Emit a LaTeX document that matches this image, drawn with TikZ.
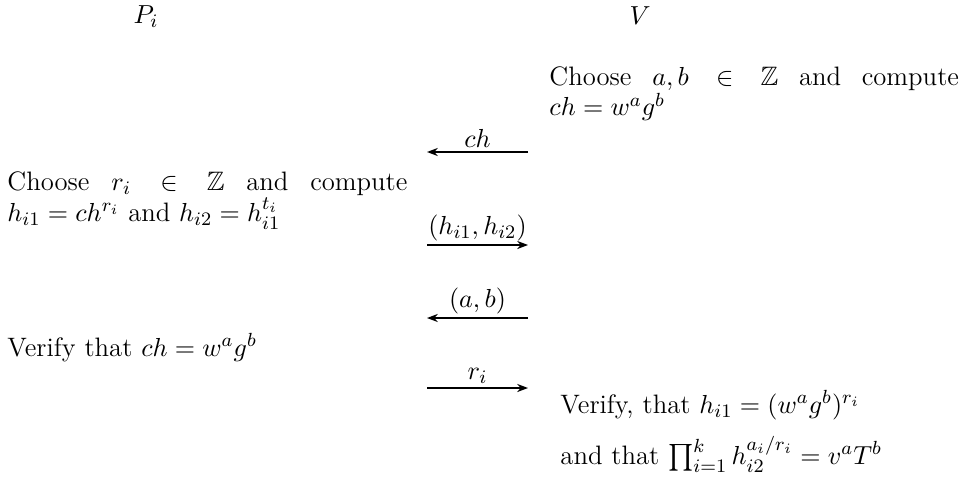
\documentclass[tikz,border=0pt]{standalone}
\usepackage{amsmath,amssymb}
\usetikzlibrary{arrows.meta,positioning}
\tikzset{
	steptext/.style={anchor=north west, align=justify, text width=168pt, inner sep=0pt,
		font=\fontsize{11.2}{11}\selectfont},
	msgarr/.style={-{Stealth[length=1.6mm,width=1.2mm]}, semithick},
	msglabel/.style={above=0.5pt, inner sep=1pt, font=\fontsize{11.2}{11}\selectfont}
}
\begin{document}
\begin{tikzpicture}[x=0.42pt, y=-0.42pt, font=\fontsize{11.2}{11}\selectfont]
			\useasboundingbox (0,0) rectangle (965,477);
			% parties
			\node (party) at (146,17) {$P_i$};
			\node (verif) at (640,16) {$V$};
			% steps
			\node[steptext, text width=172pt] (vchoose) at (549,66) {Choose $a,b \in \mathbb{Z}$ and compute\linebreak $ch = w^a g^b$};
			\node[steptext] (pchoose) at (7,171) {Choose $r_i \in \mathbb{Z}$ and compute\linebreak $h_{i1} = ch^{r_i}$ and $h_{i2} = h_{i1}^{t_i}$};
			\node[steptext, align=left] (pverify) at (7,333) {Verify that $ch = w^a g^b$};
			\node[steptext, align=left] (vverify) at (560,390) {Verify, that $h_{i1} = (w^a g^b)^{r_i}$\\[6pt] and that $\prod_{i=1}^{k} h_{i2}^{a_i/r_i} = v^a T^b$};
			% messages
			\coordinate (chL) at (427,152);  \coordinate (chR) at (528,152);
			\coordinate (hhL) at (427,245);  \coordinate (hhR) at (528,245);
			\coordinate (abL) at (427,318);  \coordinate (abR) at (528,318);
			\coordinate (riL) at (427,388);  \coordinate (riR) at (528,388);
			\draw[msgarr] (chR) -- node[msglabel]{$ch$} (chL);
			\draw[msgarr] (hhL) -- node[msglabel]{$(h_{i1},h_{i2})$} (hhR);
			\draw[msgarr] (abR) -- node[msglabel]{$(a,b)$} (abL);
			\draw[msgarr] (riL) -- node[msglabel]{$r_i$} (riR);
		\end{tikzpicture}
\end{document}
